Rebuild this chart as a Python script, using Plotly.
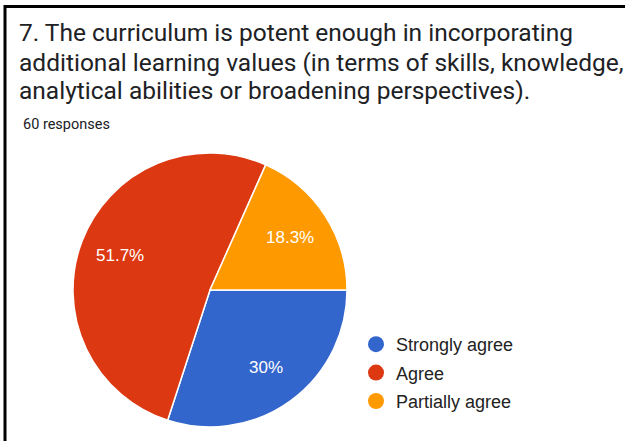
import math
import plotly.graph_objects as go

# Survey responses for question 7
categories = ["Strongly agree", "Agree", "Partially agree"]
counts = [18, 31, 11]
colors = ["#3366cc", "#dc3912", "#ff9900"]

title_lines = [
    "7. The curriculum is potent enough in incorporating",
    "additional learning values (in terms of skills, knowledge,",
    "analytical abilities or broadening perspectives).",
]
subtitle = f"{sum(counts)} responses"

W, H = 625, 441
total = sum(counts)
pct_text = [f"{round(c / total * 100, 1):g}%" for c in counts]

# Pie placement (pixels): centre and radius
CX, CY, R = 210, 290, 137
START_DEG = 0  # slices start at 3 o'clock and run clockwise

fig = go.Figure()

fig.add_trace(go.Pie(
    labels=categories,
    values=counts,
    textinfo="none",
    marker=dict(colors=colors, line=dict(color="white", width=1.5)),
    sort=False,
    direction="clockwise",
    rotation=90 - START_DEG,
    showlegend=False,
    domain=dict(x=[(CX - R) / W, (CX + R) / W],
                y=[1 - (CY + R) / H, 1 - (CY - R) / H]),
    hoverinfo="label+value+percent",
))

# Circle legend entries
for name, col in zip(categories, colors):
    fig.add_trace(go.Scatter(
        x=[None], y=[None], mode="markers", name=name, legendgroup=name,
        marker=dict(symbol="circle", size=16, color=col),
        showlegend=True, hoverinfo="skip",
    ))

annotations = []

# Percentage labels placed at the middle angle of each slice
cum = 0.0
for c, txt in zip(counts, pct_text):
    mid = START_DEG + (cum + c / 2) / total * 360.0
    cum += c
    a = math.radians(mid)
    px = CX + 0.7 * R * math.cos(a)
    py = CY + 0.7 * R * math.sin(a)
    annotations.append(dict(
        text=txt, xref="paper", yref="paper", x=px / W, y=1 - py / H,
        xanchor="center", yanchor="middle", showarrow=False,
        font=dict(family="Liberation Sans, Arial", size=17, color="white"),
    ))

for i, line in enumerate(title_lines):
    annotations.append(dict(
        text=line, xref="paper", yref="paper",
        x=17 / W, y=1 - (33 + 29 * i) / H,
        xanchor="left", yanchor="middle", showarrow=False,
        font=dict(family="Roboto", size=24.5, color="#202124"),
    ))
annotations.append(dict(
    text=subtitle, xref="paper", yref="paper",
    x=21 / W, y=1 - 124 / H, xanchor="left", yanchor="middle",
    showarrow=False, font=dict(family="Roboto", size=14.5, color="#202124"),
))

shapes = [
    dict(type="line", xref="paper", yref="paper",
         x0=5 / W, x1=5 / W, y0=0, y1=1 - 5 / H,
         line=dict(color="black", width=3)),
    dict(type="line", xref="paper", yref="paper",
         x0=4 / W, x1=1, y0=1 - 6.5 / H, y1=1 - 6.5 / H,
         line=dict(color="black", width=3)),
]

fig.update_layout(
    width=W, height=H,
    margin=dict(l=0, r=0, t=0, b=0),
    paper_bgcolor="white", plot_bgcolor="white",
    xaxis=dict(visible=False), yaxis=dict(visible=False),
    annotations=annotations, shapes=shapes,
    legend=dict(
        x=356 / W, y=1 - 326 / H, xanchor="left", yanchor="top",
        font=dict(family="Liberation Sans, Arial", size=18, color="#222222"),
        itemsizing="trace", tracegroupgap=2,
        bgcolor="rgba(0,0,0,0)",
    ),
)

fig.write_html("out.html")
